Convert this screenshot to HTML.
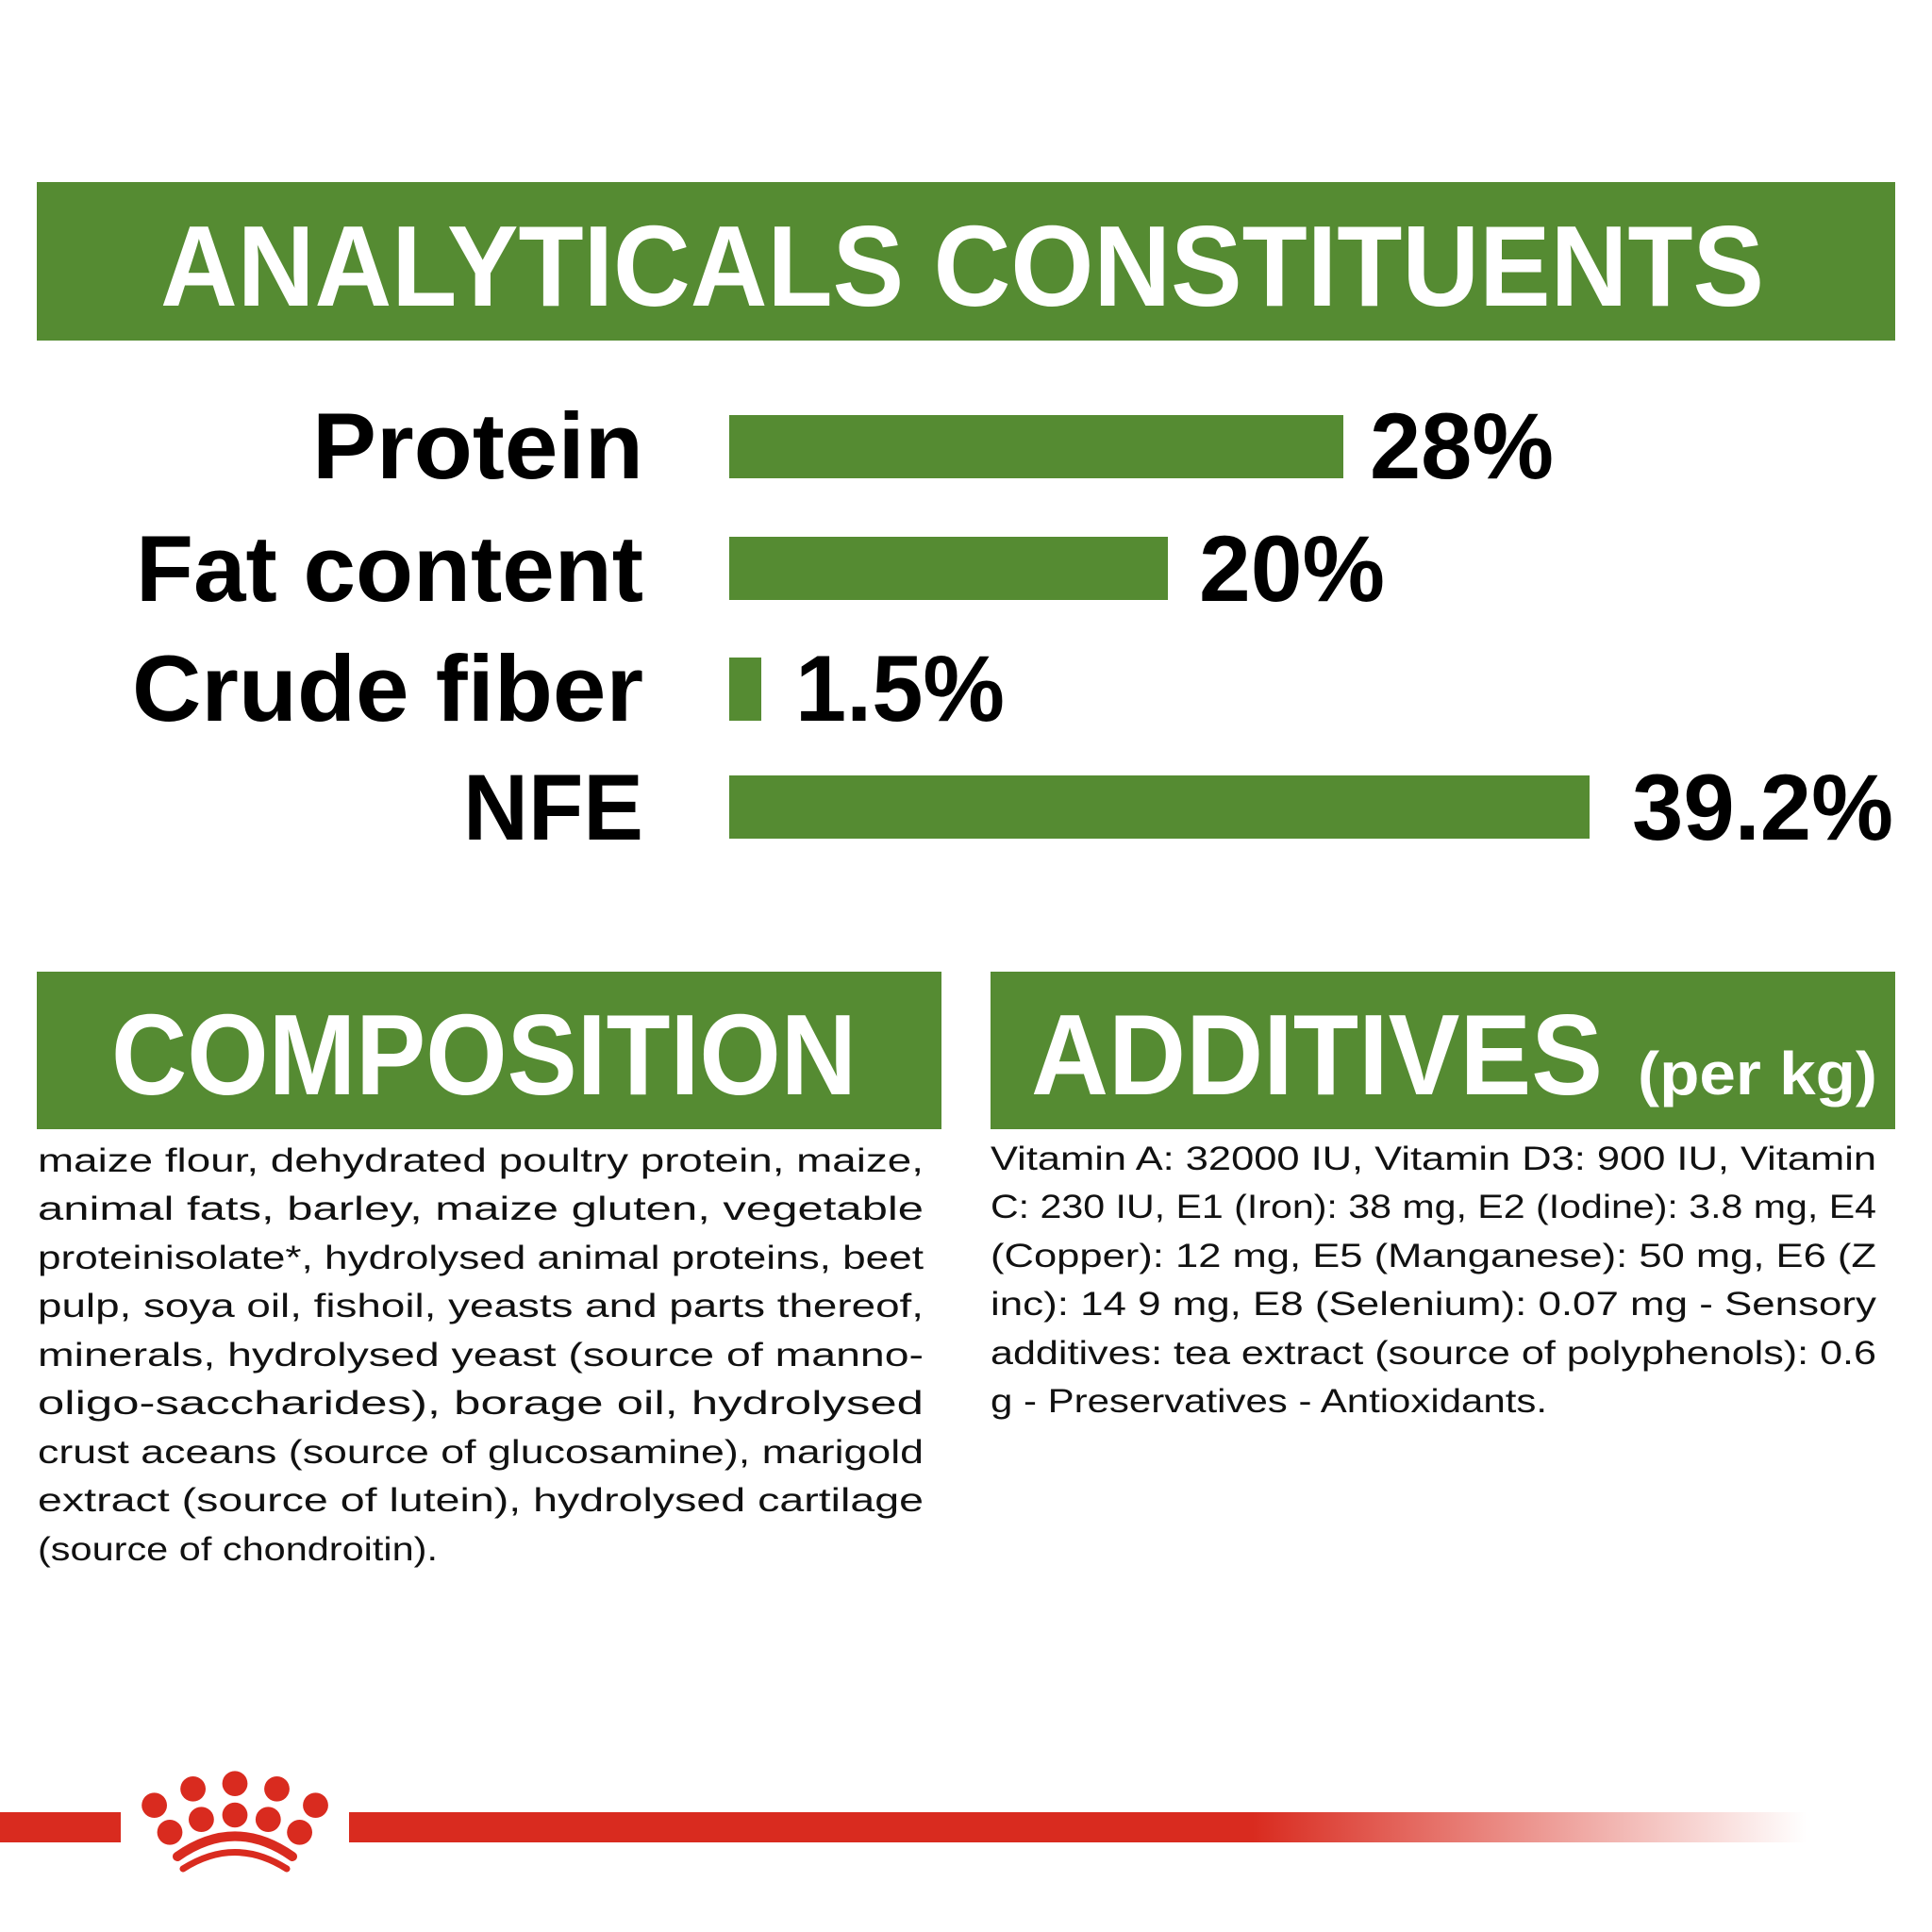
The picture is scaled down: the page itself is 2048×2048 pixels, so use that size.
<!DOCTYPE html>
<html><head><meta charset="utf-8"><style>
html,body{margin:0;padding:0;background:#fff;}
svg{display:block;}
</style></head><body>
<svg width="2048" height="2048" viewBox="0 0 2048 2048" xmlns="http://www.w3.org/2000/svg">
<defs>
<linearGradient id="fade" x1="0" x2="1" y1="0" y2="0">
<stop offset="0" stop-color="#d92b1f"/>
<stop offset="0.62" stop-color="#d92b1f"/>
<stop offset="1" stop-color="#d92b1f" stop-opacity="0"/>
</linearGradient>
</defs>
<rect width="2048" height="2048" fill="#fff"/>
<!-- header -->
<rect x="39" y="193" width="1970" height="168" fill="#558b32"/>
<text x="170" y="324" font-family="Liberation Sans, sans-serif" font-weight="bold" font-size="122" fill="#fff" textLength="1700" lengthAdjust="spacingAndGlyphs">ANALYTICALS CONSTITUENTS</text>

<!-- labels -->
<g font-family="Liberation Sans, sans-serif" font-weight="bold" font-size="99" fill="#000">
<text x="331" y="507" textLength="351" lengthAdjust="spacingAndGlyphs">Protein</text>
<text x="144" y="637" textLength="538" lengthAdjust="spacingAndGlyphs">Fat content</text>
<text x="140" y="764" textLength="542" lengthAdjust="spacingAndGlyphs">Crude fiber</text>
<text x="491" y="890" textLength="191" lengthAdjust="spacingAndGlyphs">NFE</text>
<text x="1452" y="507" textLength="195" lengthAdjust="spacingAndGlyphs">28%</text>
<text x="1271" y="637" textLength="197" lengthAdjust="spacingAndGlyphs">20%</text>
<text x="843" y="764" textLength="222" lengthAdjust="spacingAndGlyphs">1.5%</text>
<text x="1730" y="890" textLength="277" lengthAdjust="spacingAndGlyphs">39.2%</text>
</g>
<g fill="#558b32">
<rect x="773" y="440" width="651" height="67"/>
<rect x="773" y="569" width="465" height="67"/>
<rect x="773" y="697" width="34" height="67"/>
<rect x="773" y="822" width="912" height="67"/>
</g>

<!-- composition / additives boxes -->
<rect x="39" y="1030" width="959" height="167" fill="#558b32"/>
<rect x="1050" y="1030" width="959" height="167" fill="#558b32"/>
<g font-family="Liberation Sans, sans-serif" font-weight="bold" fill="#fff">
<text x="118" y="1160" font-size="122" textLength="790" lengthAdjust="spacingAndGlyphs">COMPOSITION</text>
<text x="1093" y="1160" font-size="122" textLength="606" lengthAdjust="spacingAndGlyphs">ADDITIVES</text>
<text x="1736" y="1160" font-size="64" textLength="254" lengthAdjust="spacingAndGlyphs">(per kg)</text>
</g>

<g font-family="Liberation Sans, sans-serif" font-size="35" fill="#111">
<text x="40" y="1242" textLength="939" lengthAdjust="spacingAndGlyphs">maize flour, dehydrated poultry protein, maize,</text>
<text x="40" y="1293" textLength="939" lengthAdjust="spacingAndGlyphs">animal fats, barley, maize gluten, vegetable</text>
<text x="40" y="1345" textLength="939" lengthAdjust="spacingAndGlyphs">proteinisolate*, hydrolysed animal proteins, beet</text>
<text x="40" y="1396" textLength="939" lengthAdjust="spacingAndGlyphs">pulp, soya oil, fishoil, yeasts and parts thereof,</text>
<text x="40" y="1448" textLength="939" lengthAdjust="spacingAndGlyphs">minerals, hydrolysed yeast (source of manno-</text>
<text x="40" y="1499" textLength="939" lengthAdjust="spacingAndGlyphs">oligo-saccharides), borage oil, hydrolysed</text>
<text x="40" y="1551" textLength="939" lengthAdjust="spacingAndGlyphs">crust aceans (source of glucosamine), marigold</text>
<text x="40" y="1602" textLength="939" lengthAdjust="spacingAndGlyphs">extract (source of lutein), hydrolysed cartilage</text>
<text x="40" y="1654" textLength="424" lengthAdjust="spacingAndGlyphs">(source of chondroitin).</text>

<text x="1050" y="1240" textLength="939" lengthAdjust="spacingAndGlyphs">Vitamin A: 32000 IU, Vitamin D3: 900 IU, Vitamin</text>
<text x="1050" y="1291" textLength="939" lengthAdjust="spacingAndGlyphs">C: 230 IU, E1 (Iron): 38 mg, E2 (Iodine): 3.8 mg, E4</text>
<text x="1050" y="1343" textLength="939" lengthAdjust="spacingAndGlyphs">(Copper): 12 mg, E5 (Manganese): 50 mg, E6 (Z</text>
<text x="1050" y="1394" textLength="939" lengthAdjust="spacingAndGlyphs">inc): 14 9 mg, E8 (Selenium): 0.07 mg - Sensory</text>
<text x="1050" y="1446" textLength="939" lengthAdjust="spacingAndGlyphs">additives: tea extract (source of polyphenols): 0.6</text>
<text x="1050" y="1497" textLength="590" lengthAdjust="spacingAndGlyphs">g - Preservatives - Antioxidants.</text>
</g>

<!-- footer red line -->
<rect x="0" y="1921" width="128" height="32" fill="#d92b1f"/>
<rect x="370" y="1921" width="1545" height="32" fill="url(#fade)"/>
<g fill="#d92b1f">
<ellipse cx="163.6" cy="1913.7" rx="13.4" ry="13.3"/>
<ellipse cx="204.6" cy="1896.3" rx="13.4" ry="13.3"/>
<ellipse cx="249" cy="1890.7" rx="13.4" ry="13.3"/>
<ellipse cx="293.5" cy="1896.3" rx="13.4" ry="13.3"/>
<ellipse cx="334.5" cy="1913.7" rx="13.4" ry="13.3"/>
<ellipse cx="180" cy="1942.3" rx="13.4" ry="13.3"/>
<ellipse cx="213.4" cy="1928.7" rx="13.4" ry="13.3"/>
<ellipse cx="249" cy="1924" rx="13.4" ry="13.3"/>
<ellipse cx="284.3" cy="1928.7" rx="13.4" ry="13.3"/>
<ellipse cx="317.6" cy="1942.3" rx="13.4" ry="13.3"/>
</g>
<path d="M188,1968 Q249,1925 310,1968" stroke="#d92b1f" stroke-width="10" fill="none" stroke-linecap="round"/>
<path d="M194,1981 Q249,1946 304,1981" stroke="#d92b1f" stroke-width="7" fill="none" stroke-linecap="round"/>
</svg>
</body></html>
